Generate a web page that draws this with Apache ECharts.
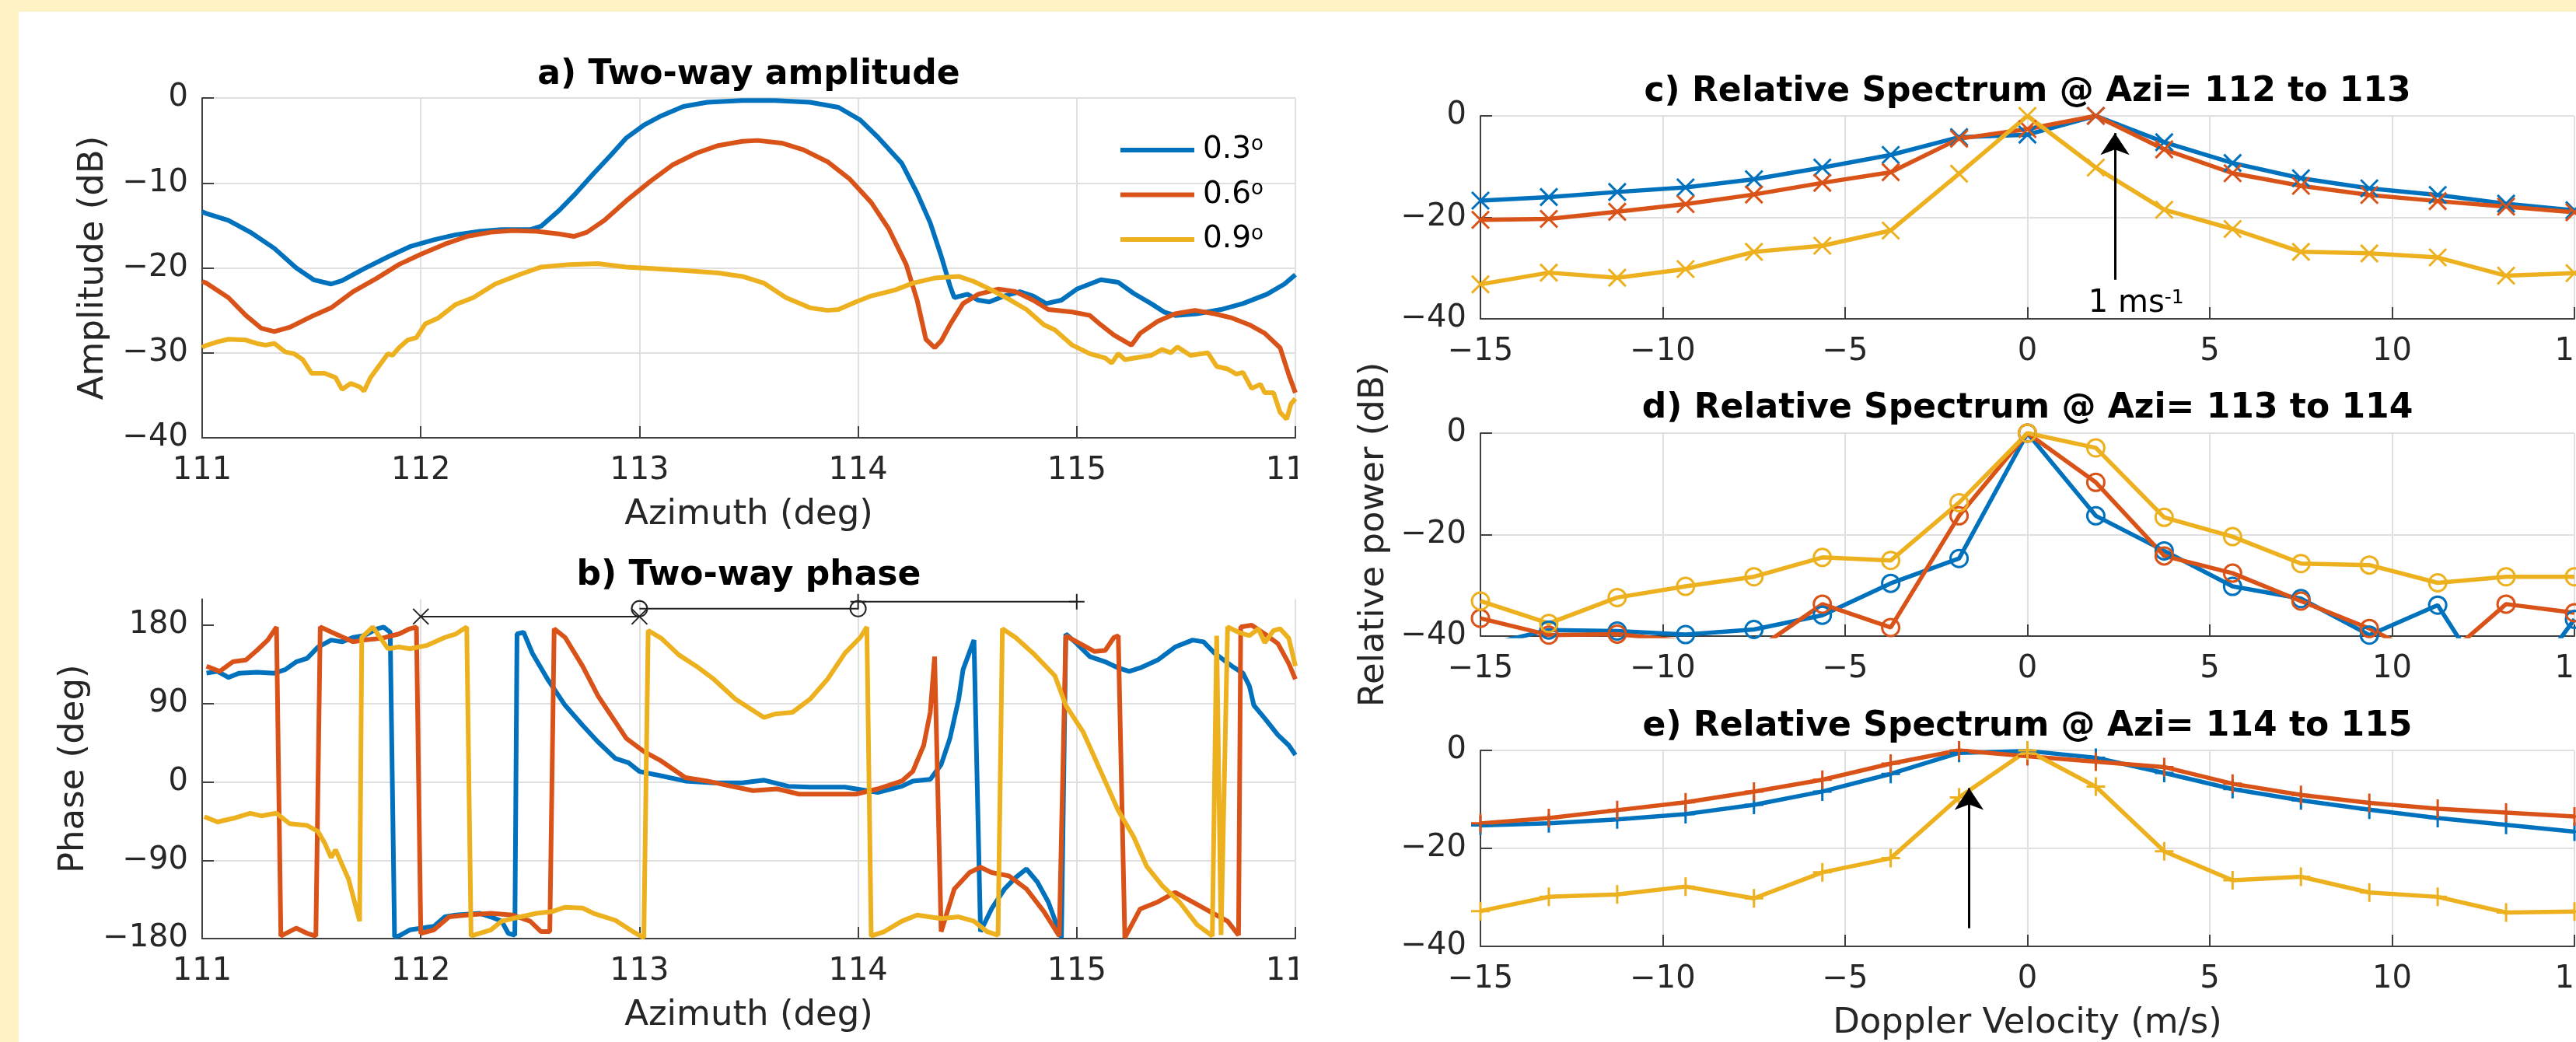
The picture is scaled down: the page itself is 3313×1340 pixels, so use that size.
<!DOCTYPE html>
<html><head><meta charset="utf-8">
<script src="https://cdn.jsdelivr.net/npm/echarts@6/dist/echarts.min.js"></script>
<style>html,body{margin:0;padding:0;background:#fff;overflow:hidden}#c{width:3400px;height:1340px}</style>
</head><body><div id="c"></div>
<script>
// ---------- tick labels ----------
const azTicks = [111, 112, 113, 114, 115, 116];
const azTickLabels = ['111', '112', '113', '114', '115', '116'];
const ampTicks = [-40, -30, -20, -10, 0];
const ampTickLabels = ['\u221240', '\u221230', '\u221220', '\u221210', '0'];
const phaseTicks = [-180, -90, 0, 90, 180];
const phaseTickLabels = ['\u2212180', '\u221290', '0', '90', '180'];
const velTicks = [-15, -10, -5, 0, 5, 10, 15];
const velTickLabels = ['\u221215', '\u221210', '\u22125', '0', '5', '10', '15'];
const specTicks = [-40, -20, 0];
const specTickLabels = ['\u221240', '\u221220', '0'];

// ---------- legend / series names ----------
const beamNames = ['0.3°', '0.6°', '0.9°'];

// ---------- a) two-way amplitude [azimuth, dB] ----------
const ampBlue = [[111.00,-13.4],[111.02,-13.6],[111.12,-14.4],[111.22,-15.8],[111.33,-17.7],[111.43,-20.0],[111.51,-21.4],[111.59,-21.9],[111.64,-21.5],[111.74,-20.1],[111.85,-18.7],[111.95,-17.5],[112.06,-16.7],[112.16,-16.1],[112.27,-15.7],[112.37,-15.5],[112.50,-15.5],[112.55,-15.1],[112.63,-13.3],[112.71,-11.2],[112.79,-8.9],[112.87,-6.7],[112.94,-4.7],[113.02,-3.2],[113.10,-2.1],[113.20,-1.0],[113.31,-0.5],[113.47,-0.3],[113.62,-0.3],[113.78,-0.5],[113.91,-1.1],[114.01,-2.6],[114.09,-4.6],[114.20,-7.7],[114.27,-11.2],[114.33,-14.7],[114.38,-18.6],[114.42,-22.1],[114.44,-23.5],[114.50,-23.1],[114.55,-23.8],[114.60,-24.0],[114.67,-23.3],[114.74,-22.8],[114.80,-23.3],[114.86,-24.2],[114.93,-23.8],[115.00,-22.5],[115.11,-21.4],[115.19,-21.7],[115.26,-23.0],[115.34,-24.2],[115.40,-25.2],[115.45,-25.6],[115.55,-25.4],[115.66,-24.9],[115.76,-24.2],[115.87,-23.1],[115.95,-21.9],[116.00,-20.8]];
const ampOrange = [[111.00,-21.6],[111.02,-21.8],[111.12,-23.5],[111.20,-25.6],[111.27,-27.1],[111.33,-27.5],[111.40,-27.0],[111.51,-25.6],[111.59,-24.7],[111.69,-22.8],[111.80,-21.2],[111.90,-19.6],[112.00,-18.4],[112.11,-17.2],[112.21,-16.3],[112.32,-15.8],[112.42,-15.6],[112.53,-15.7],[112.63,-16.0],[112.70,-16.3],[112.76,-15.8],[112.84,-14.4],[112.94,-12.1],[113.05,-9.8],[113.15,-7.9],[113.26,-6.5],[113.36,-5.6],[113.47,-5.1],[113.54,-5.0],[113.65,-5.3],[113.75,-6.1],[113.86,-7.5],[113.96,-9.5],[114.06,-12.3],[114.14,-15.4],[114.22,-19.6],[114.27,-23.8],[114.31,-28.4],[114.35,-29.4],[114.38,-28.6],[114.42,-26.7],[114.48,-24.2],[114.55,-23.1],[114.64,-22.5],[114.72,-22.8],[114.80,-23.8],[114.87,-24.9],[114.98,-25.2],[115.06,-25.6],[115.11,-26.7],[115.17,-27.9],[115.25,-29.1],[115.29,-27.7],[115.37,-26.3],[115.45,-25.4],[115.54,-25.0],[115.63,-25.4],[115.71,-25.9],[115.79,-26.7],[115.86,-27.7],[115.93,-29.4],[115.97,-32.6],[116.00,-34.7]];
const ampYellow = [[111.00,-29.4],[111.01,-29.2],[111.07,-28.7],[111.12,-28.4],[111.20,-28.5],[111.25,-28.9],[111.29,-29.1],[111.33,-28.9],[111.38,-29.9],[111.42,-30.1],[111.46,-30.8],[111.50,-32.4],[111.56,-32.4],[111.61,-32.9],[111.64,-34.3],[111.68,-33.6],[111.72,-34.0],[111.74,-34.5],[111.77,-32.9],[111.81,-31.5],[111.85,-30.1],[111.87,-30.3],[111.90,-29.4],[111.94,-28.5],[111.98,-28.2],[112.02,-26.6],[112.08,-25.9],[112.16,-24.3],[112.24,-23.5],[112.34,-21.9],[112.45,-20.8],[112.55,-19.9],[112.68,-19.6],[112.81,-19.5],[112.94,-19.9],[113.07,-20.1],[113.20,-20.3],[113.36,-20.6],[113.47,-21.0],[113.57,-21.8],[113.67,-23.5],[113.78,-24.7],[113.86,-25.0],[113.91,-24.9],[113.99,-24.0],[114.06,-23.3],[114.17,-22.6],[114.25,-21.8],[114.35,-21.2],[114.46,-21.0],[114.53,-21.6],[114.61,-22.6],[114.69,-23.7],[114.77,-24.9],[114.85,-26.7],[114.90,-27.3],[114.98,-29.1],[115.06,-30.1],[115.13,-30.6],[115.16,-31.2],[115.19,-30.1],[115.22,-30.8],[115.29,-30.5],[115.34,-30.3],[115.39,-29.6],[115.43,-30.0],[115.46,-29.3],[115.52,-30.3],[115.60,-30.0],[115.64,-31.6],[115.69,-31.9],[115.73,-32.5],[115.76,-32.3],[115.80,-34.2],[115.84,-33.7],[115.86,-34.7],[115.90,-34.7],[115.93,-37.0],[115.96,-37.8],[115.98,-36.0],[116.00,-35.4]];

// ---------- b) two-way phase [azimuth, deg] ----------
const phaseBlue = [[111.02,125],[111.07,127],[111.12,120],[111.17,125],[111.25,126],[111.33,125],[111.38,129],[111.43,138],[111.48,142],[111.53,155],[111.59,163],[111.64,161],[111.69,166],[111.74,168],[111.80,176],[111.83,178],[111.86,172],[111.88,-178],[111.90,-177],[111.95,-170],[112.06,-166],[112.11,-155],[112.16,-153],[112.27,-151],[112.32,-155],[112.37,-160],[112.40,-174],[112.43,-176],[112.44,170],[112.47,172],[112.51,148],[112.58,118],[112.66,88],[112.74,65],[112.81,46],[112.89,27],[112.95,22],[113.00,12],[113.10,7],[113.21,1],[113.34,-1],[113.47,-1],[113.57,2],[113.68,-5],[113.78,-6],[113.94,-6],[114.04,-10],[114.09,-12],[114.20,-5],[114.25,1],[114.33,3],[114.38,20],[114.42,50],[114.46,95],[114.48,129],[114.53,163],[114.56,-172],[114.61,-146],[114.67,-123],[114.72,-110],[114.77,-100],[114.82,-115],[114.87,-138],[114.93,-179],[114.95,170],[115.00,159],[115.06,144],[115.13,138],[115.19,131],[115.24,127],[115.29,131],[115.37,140],[115.45,155],[115.53,163],[115.58,161],[115.63,148],[115.71,133],[115.76,125],[115.79,110],[115.81,88],[115.86,73],[115.92,54],[115.97,42],[116.00,31]];
const phaseOrange = [[111.02,133],[111.08,127],[111.14,138],[111.20,140],[111.25,151],[111.30,163],[111.34,178],[111.36,-177],[111.43,-168],[111.48,-174],[111.52,-177],[111.54,178],[111.61,170],[111.69,161],[111.74,163],[111.82,165],[111.90,170],[111.95,176],[111.98,178],[112.00,-174],[112.06,-170],[112.13,-155],[112.21,-153],[112.32,-151],[112.42,-153],[112.50,-160],[112.55,-172],[112.59,-172],[112.61,176],[112.66,166],[112.74,133],[112.81,99],[112.89,69],[112.94,50],[113.02,35],[113.10,24],[113.21,5],[113.31,1],[113.42,-5],[113.52,-10],[113.63,-8],[113.73,-14],[113.86,-14],[113.99,-14],[114.09,-8],[114.20,1],[114.25,12],[114.30,42],[114.33,80],[114.35,144],[114.38,-172],[114.44,-123],[114.51,-104],[114.56,-98],[114.61,-104],[114.69,-108],[114.77,-123],[114.85,-149],[114.92,-177],[114.95,168],[115.00,161],[115.08,150],[115.13,151],[115.17,166],[115.19,168],[115.22,-179],[115.29,-146],[115.37,-138],[115.45,-127],[115.53,-138],[115.61,-149],[115.69,-160],[115.74,-176],[115.75,178],[115.80,180],[115.86,170],[115.92,159],[115.97,136],[116.00,118]];
const phaseYellow = [[111.01,-40],[111.07,-46],[111.14,-42],[111.22,-36],[111.27,-39],[111.34,-36],[111.40,-48],[111.48,-50],[111.53,-57],[111.56,-70],[111.59,-87],[111.61,-78],[111.67,-112],[111.72,-160],[111.73,166],[111.78,178],[111.85,153],[111.90,155],[111.95,153],[112.03,157],[112.11,166],[112.16,170],[112.21,178],[112.23,-177],[112.32,-170],[112.37,-160],[112.42,-157],[112.53,-151],[112.60,-149],[112.66,-144],[112.74,-145],[112.79,-151],[112.89,-159],[112.97,-172],[113.02,-179],[113.04,174],[113.10,165],[113.18,146],[113.26,133],[113.34,118],[113.44,95],[113.52,82],[113.57,74],[113.62,78],[113.70,80],[113.78,95],[113.86,118],[113.94,148],[114.01,166],[114.04,178],[114.06,-177],[114.12,-172],[114.20,-160],[114.27,-153],[114.38,-157],[114.46,-155],[114.53,-160],[114.59,-172],[114.64,-176],[114.66,176],[114.72,166],[114.80,148],[114.90,122],[114.95,88],[115.03,57],[115.11,12],[115.19,-33],[115.26,-63],[115.32,-97],[115.39,-119],[115.47,-138],[115.55,-164],[115.62,-177],[115.64,168],[115.66,-176],[115.69,178],[115.74,172],[115.79,168],[115.83,176],[115.86,160],[115.90,174],[115.93,176],[115.97,165],[116.00,133]];

// azimuth ranges of panels c, d, e (drawn in b)
const rangeC = [[112, 190], [113, 190]];
const rangeD = [[113, 199], [114, 199]];
const rangeE = [[114, 207], [115, 207]];

// ---------- c, d, e) relative spectra ----------
const velocity = [-15,-13.125,-11.25,-9.375,-7.5,-5.625,-3.75,-1.875,0,1.875,3.75,5.625,7.5,9.375,11.25,13.125,15];
const specC03 = [-16.7,-16.0,-15.0,-14.1,-12.5,-10.2,-7.7,-4.2,-3.7,0,-5.2,-9.3,-12.3,-14.3,-15.6,-17.3,-18.6];
const specC06 = [-20.5,-20.3,-18.9,-17.4,-15.5,-13.2,-11.1,-4.5,-2.6,0,-6.6,-11.3,-13.8,-15.6,-16.8,-17.9,-19.0];
const specC09 = [-33.2,-30.9,-31.9,-30.2,-26.8,-25.6,-22.6,-11.4,0,-10.2,-18.5,-22.3,-26.8,-27.1,-27.9,-31.5,-31.0];
const specD03 = [-42,-38.8,-39.0,-39.7,-38.7,-35.9,-29.6,-24.7,0,-16.3,-23.2,-30.2,-32.6,-39.8,-33.9,-55,-36.7];
const specD06 = [-36.5,-39.8,-39.6,-41,-43,-33.7,-38.3,-16.3,0,-9.7,-24.2,-27.6,-33.1,-38.5,-45.4,-33.7,-35.4];
const specD09 = [-33.1,-37.5,-32.4,-30.2,-28.3,-24.5,-25.1,-13.7,0,-2.9,-16.6,-20.4,-25.7,-26.0,-29.5,-28.3,-28.3];
const specE03 = [-15.3,-14.9,-14.1,-13.0,-11.1,-8.4,-4.8,-0.5,-0.1,-1.5,-4.6,-7.9,-10.2,-12.1,-13.8,-15.2,-16.6];
const specE06 = [-14.9,-13.8,-12.2,-10.6,-8.4,-6.0,-2.7,0,-1.2,-2.3,-3.4,-6.8,-9.1,-10.7,-11.9,-12.7,-13.5];
const specE09 = [-32.8,-29.9,-29.4,-27.8,-30.2,-24.9,-22.0,-9.6,0,-7.4,-20.6,-26.5,-25.8,-29.0,-29.9,-33.1,-32.9];

// annotations (data units)
const arrowC = { v: 2.4, from: -32.3, to: -3.4 };
const arrowE = { v: -1.6, from: -36.3, to: -7.7 };
const noteC = { v: 2.98, db: -37.1, main: '1 ms', sup: '-1' };

const titles = ['a) Two-way amplitude', 'b) Two-way phase',
  'c) Relative Spectrum @ Azi= 112 to 113', 'd) Relative Spectrum @ Azi= 113 to 114', 'e) Relative Spectrum @ Azi= 114 to 115'];

// ---------- styling ----------
const COL = ['#0072BD', '#D95319', '#EDB120'];
const AX = '#404040', TXT = '#262626', GRIDC = '#e0e0e0';
const FONT = 'DejaVu Sans';
const SYM_X = 'path://M0,0L10,10M0,10L10,0';
const SYM_PLUS = 'path://M5,0L5,10M0,5L10,5';

function fmt(ticks, labels) {
  return v => { const i = ticks.findIndex(t => Math.abs(t - v) < 1e-6); return i < 0 ? '' : labels[i]; };
}
function axis(gi, min, max, interval, ticks, labels, name, nameGap, isY) {
  return {
    gridIndex: gi, type: 'value', min, max, interval,
    axisLine: { show: true, onZero: false, lineStyle: { color: AX, width: 2 } },
    axisTick: { show: true, inside: true, length: 15, lineStyle: { color: AX, width: 2 }, customValues: ticks },
    axisLabel: { show: true, margin: isY ? 18 : 23, fontSize: 40, fontFamily: FONT, color: TXT,
      formatter: fmt(ticks, labels), customValues: ticks, hideOverlap: false },
    splitLine: { show: true, showMaxLine: !(isY && max === 210), lineStyle: { color: GRIDC, width: 2 } },
    name: name || '', nameLocation: 'middle', nameGap: nameGap || 0,
    nameTextStyle: { fontSize: 45, fontFamily: FONT, color: TXT }
  };
}
function pairs(vals) { return velocity.map((v, i) => [v, vals[i]]); }

const grids = [
  { left: 260, top: 126, width: 1406, height: 437 },
  { left: 260, top: 770.5, width: 1406, height: 436.5 },
  { left: 1904, top: 149, width: 1407, height: 261 },
  { left: 1904, top: 557, width: 1407, height: 261 },
  { left: 1904, top: 965, width: 1407, height: 261 }
];
const titleTops = [75, 719, 97, 504, 913];
const titleCenters = [963, 963, 2607.5, 2607.5, 2607.5];

const xAxes = [
  axis(0, 111, 116, 1, azTicks, azTickLabels, 'Azimuth (deg)', 77, false),
  axis(1, 111, 116, 1, azTicks, azTickLabels, 'Azimuth (deg)', 77, false),
  axis(2, -15, 15, 5, velTicks, velTickLabels, '', 0, false),
  axis(3, -15, 15, 5, velTicks, velTickLabels, '', 0, false),
  axis(4, -15, 15, 5, velTicks, velTickLabels, 'Doppler Velocity (m/s)', 77, false)
];
const yAxes = [
  axis(0, -40, 0, 10, ampTicks, ampTickLabels, 'Amplitude (dB)', 117, true),
  axis(1, -180, 210, 90, phaseTicks, phaseTickLabels, 'Phase (deg)', 142, true),
  axis(2, -40, 0, 20, specTicks, specTickLabels, '', 0, true),
  axis(3, -40, 0, 20, specTicks, specTickLabels, 'Relative power (dB)', 114, true),
  axis(4, -40, 0, 20, specTicks, specTickLabels, '', 0, true)
];

const series = [];
// a
[ampBlue, ampOrange, ampYellow].forEach((d, i) => series.push({
  type: 'line', name: beamNames[i], xAxisIndex: 0, yAxisIndex: 0, data: d, symbol: 'none',
  lineStyle: { color: COL[i], width: 6 }, itemStyle: { color: COL[i] }, z: 3
}));
// b
[phaseBlue, phaseOrange, phaseYellow].forEach((d, i) => series.push({
  type: 'line', name: 'b ' + beamNames[i], xAxisIndex: 1, yAxisIndex: 1, data: d, symbol: 'none',
  lineStyle: { color: COL[i], width: 6 }, itemStyle: { color: COL[i] }, z: 3
}));
[[rangeC, SYM_X], [rangeD, 'circle'], [rangeE, SYM_PLUS]].forEach(([d, s], i) => series.push({
  type: 'line', name: 'range' + i, xAxisIndex: 1, yAxisIndex: 1, data: d, symbol: s, symbolSize: 20,
  showSymbol: true, clip: false,
  lineStyle: { color: '#222', width: 2 }, itemStyle: { color: 'rgba(0,0,0,0)', borderColor: '#222', borderWidth: 2 }, z: 4
}));
// c, d, e
const specSets = [
  [specC03, specC06, specC09, SYM_X, 22],
  [specD03, specD06, specD09, 'circle', 22],
  [specE03, specE06, specE09, SYM_PLUS, 24]
];
specSets.forEach((set, p) => {
  for (let i = 0; i < 3; i++) {
    series.push({
      type: 'line', name: 'p' + p + ' ' + beamNames[i], xAxisIndex: 2 + p, yAxisIndex: 2 + p,
      data: pairs(set[i]), symbol: set[3], symbolSize: set[4], showSymbol: true,
      lineStyle: { color: COL[i], width: 5.5 },
      itemStyle: { color: 'rgba(0,0,0,0)', borderColor: COL[i], borderWidth: 3 }, z: 3
    });
  }
});
// arrows & note
function arrowLine(a) {
  return { silent: true, symbol: ['none', 'arrow'], symbolSize: 28, animation: false,
    lineStyle: { color: '#000', width: 3, type: 'solid' }, itemStyle: { color: '#000' }, label: { show: false },
    emphasis: { disabled: true },
    data: [[{ coord: [a.v, a.from] }, { coord: [a.v, a.to] }]] };
}
series.push({ type: 'line', name: 'arrowC', xAxisIndex: 2, yAxisIndex: 2, data: [], markLine: arrowLine(arrowC),
  markPoint: { silent: true, symbol: 'rect', symbolSize: 1, itemStyle: { color: 'rgba(0,0,0,0)' }, animation: false,
    label: { show: true, position: 'inside', color: '#000', fontFamily: FONT,
      formatter: '{a|' + noteC.main + '}{b|' + noteC.sup + '}',
      rich: { a: { fontSize: 40, lineHeight: 40, fontFamily: FONT, color: '#000' },
              b: { fontSize: 25, lineHeight: 14, verticalAlign: 'top', fontFamily: FONT, color: '#000' } } },
    data: [{ coord: [noteC.v, noteC.db] }] }, z: 6 });
series.push({ type: 'line', name: 'arrowE', xAxisIndex: 4, yAxisIndex: 4, data: [], markLine: arrowLine(arrowE), z: 6 });

const option = {
  animation: false,
  backgroundColor: '#ffffff',
  grid: grids.map(g => Object.assign({ containLabel: false }, g)),
  title: titles.map((t, i) => ({
    text: t, left: titleCenters[i], top: titleTops[i], textAlign: 'center', textVerticalAlign: 'top', padding: 0,
    textStyle: { fontFamily: FONT, fontSize: 44, fontWeight: 'bold', color: '#000' }
  })),
  legend: {
    data: beamNames.map(n => ({ name: n, icon: 'rect' })), orient: 'vertical', left: 1441, top: 173, padding: 0,
    itemWidth: 95, itemHeight: 6, itemGap: 18, selectedMode: false,
    formatter: n => '{t|' + n.replace('°', '') + '}{s|o}',
    textStyle: { fontFamily: FONT, fontSize: 39, color: '#000',
      rich: { t: { fontSize: 39, lineHeight: 40, fontFamily: FONT, color: '#000', padding: [0, 0, 0, 6] },
              s: { fontSize: 26, lineHeight: 14, verticalAlign: 'top', fontFamily: FONT, color: '#000' } } }
  },
  xAxis: xAxes, yAxis: yAxes, series,
  graphic: [
    { type: 'rect', shape: { x: 1669, y: 575, width: 66, height: 62 }, style: { fill: '#ffffff' }, z: 100, silent: true },
    { type: 'rect', shape: { x: 1669, y: 1222, width: 66, height: 62 }, style: { fill: '#ffffff' }, z: 100, silent: true },
    { type: 'rect', shape: { x: 0, y: 0, width: 3400, height: 15 }, style: { fill: '#fff2c4' }, z: 100, silent: true },
    { type: 'rect', shape: { x: 0, y: 0, width: 24, height: 1340 }, style: { fill: '#fff2c4' }, z: 100, silent: true }
  ]
};
const chart = echarts.init(document.getElementById('c'), null, { renderer: 'canvas', width: 3400, height: 1340 });
chart.setOption(option);
</script></body></html>
